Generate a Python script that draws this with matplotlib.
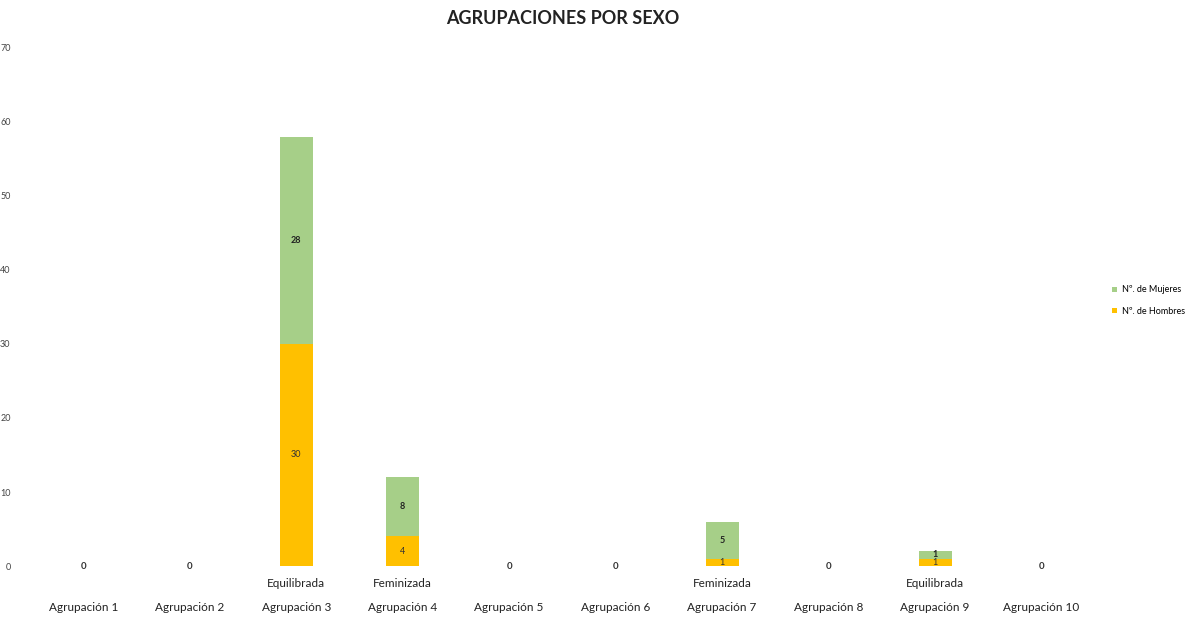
import matplotlib.pyplot as plt
import numpy as np

plt.rcParams['font.family'] = ['Lato', 'DejaVu Sans']

grupos = ["Agrupación %d" % i for i in range(1, 11)]
hombres = [0, 0, 30, 4, 0, 0, 1, 0, 1, 0]
mujeres = [0, 0, 28, 8, 0, 0, 5, 0, 1, 0]
tipo = ["", "", "Equilibrada", "Feminizada", "", "", "Feminizada", "", "Equilibrada", ""]

verde = '#A6CF88'
naranja = '#FFC000'

fig = plt.figure(figsize=(12.03, 6.2), dpi=100)
ax = fig.add_axes([0.025, 0.087, 0.885, 0.836])

x = np.arange(len(grupos))
hombres = np.array(hombres)
mujeres = np.array(mujeres)
w = 0.31
b1 = ax.bar(x, hombres, w, color=naranja, label='Nº. de Hombres')
b2 = ax.bar(x, mujeres, w, bottom=hombres, color=verde, label='Nº. de Mujeres')

# etiquetas de valor en el centro de cada tramo
for i in x:
    if hombres[i] + mujeres[i] == 0:
        ax.text(i, 0, "0", ha='center', va='center', fontsize=7, fontweight='bold', color='#333333')
        continue
    ax.text(i, hombres[i] / 2, str(hombres[i]), ha='center', va='center', fontsize=6.5, color='#333333')
    ax.text(i, hombres[i] + mujeres[i] / 2, str(mujeres[i]), ha='center', va='center', fontsize=6.5,
            fontweight='bold', color='#222222')
    ax.text(i, -2.3, tipo[i], ha='center', va='center', fontsize=8.5, color='#222222')

ax.set_xlim(-0.5, 9.5)
ax.set_ylim(0, 70)
ax.set_yticks(range(0, 71, 10))
ax.set_xticks(x)
ax.set_xticklabels(grupos, fontsize=8.5, color='#222222')
ax.tick_params(axis='x', length=0, pad=26)
ax.tick_params(axis='y', length=0, pad=14, labelsize=6.5, labelcolor='#444444')
for s in ax.spines.values():
    s.set_visible(False)

ax.set_title("AGRUPACIONES POR SEXO", fontsize=13, fontweight='bold', color='#222222', pad=17)

h, l = ax.get_legend_handles_labels()
fig.legend(h[::-1], l[::-1], loc='center left', bbox_to_anchor=(0.918, 0.515), frameon=False,
           fontsize=6.5, handlelength=0.5, handleheight=0.5, handletextpad=0.5, labelspacing=1.4)

fig.savefig('out.png', dpi=100)
